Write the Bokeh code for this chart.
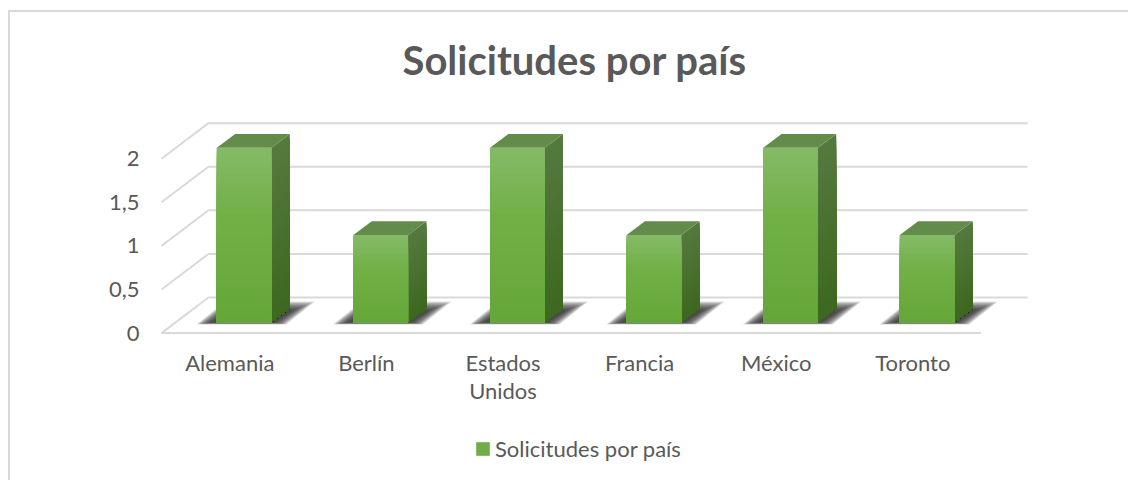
from bokeh.plotting import figure
from bokeh.embed import file_html
from bokeh.resources import INLINE
from bokeh.models import Range1d, FixedTicker, Legend, LegendItem, ColumnDataSource

TITLE = "Solicitudes por país"
categories = ["Alemania", "Berlín", "Estados\nUnidos", "Francia", "México", "Toronto"]
values = [2, 1, 2, 1, 2, 1]
y_ticks = [0, 0.5, 1, 1.5, 2]
y_labels = {0: "0", 0.5: "0,5", 1: "1", 1.5: "1,5", 2: "2"}

FONT = "Lato"
TEXT = "#595959"
GRID = "#d9d9d9"
FRONT_STOPS = [(0.0, (132, 186, 103)), (0.4, (113, 176, 70)), (1.0, (101, 166, 56))]
SIDE_STOPS = [(0.0, (85, 122, 63)), (1.0, (61, 104, 31))]
TOP_FACE = "#638b4a"

# oblique projection of the floor depth, in axis units
DX, DY = 0.344, 0.408
D0, D1 = 0.305, 0.695
BAR_W = 0.40


def mix(stops, t):
    for (a, ca), (b, cb) in zip(stops, stops[1:]):
        if t <= b:
            f = (t - a) / (b - a)
            return "#%02x%02x%02x" % tuple(round(p + (q - p) * f) for p, q in zip(ca, cb))
    return "#%02x%02x%02x" % stops[-1][1]


p = figure(width=1120, height=470, output_backend="svg", toolbar_location=None,
           x_range=Range1d(-0.5146, 5.8543), y_range=Range1d(-1.7133, 2.6675),
           min_border_left=149, min_border_right=101, min_border_top=88, min_border_bottom=0,
           outline_line_color=None, background_fill_color="white", border_fill_color="white",
           margin=(10, 0, 0, 8),
           styles={"border-top": "2px solid " + GRID, "border-left": "2px solid " + GRID})
p.grid.visible = False

# title
p.title.text = TITLE
p.title.align = "left"
p.title.offset = 243
p.title.standoff = 34
p.title.text_font = FONT
p.title.text_font_size = "40px"
p.title.text_font_style = "bold"
p.title.text_color = TEXT

# walls
XL, XR = -0.5, 5.84
gx, gy = [], []
for v in y_ticks:
    gx.append([XL, XL + DX, XR]); gy.append([v, v + DY, v + DY])
p.multi_line(gx, gy, line_color=GRID, line_width=2)
p.line([XL, XL + 6], [0, 0], line_color=GRID, line_width=2)

xs = list(range(len(categories)))

# floor shadows
LAYERS = 18
for i in xs:
    x0 = i - BAR_W / 2 + D0 * DX
    x1 = x0 + BAR_W
    yb = D0 * DY
    for k in range(LAYERS):
        f = k / (LAYERS - 1)
        sx = [x0 - 0.15 + 0.11 * f, x1 + 0.11 - 0.09 * f, x1 + 0.32 - 0.17 * f, x0 + 0.06 + 0.03 * f]
        sy = [yb - 0.025 + 0.025 * f, yb - 0.025 + 0.025 * f, yb + 0.24 - 0.11 * f, yb + 0.24 - 0.11 * f]
        p.patch(sx, sy, fill_color="#303030", fill_alpha=0.1, line_color=None)

# bars: base columns (carry the legend), then shaded slices
src = ColumnDataSource(dict(x=[i + D0 * DX for i in xs], top=[v + D0 * DY for v in values],
                            bottom=[D0 * DY] * len(xs)))
base = p.vbar(x="x", top="top", bottom="bottom", width=BAR_W, source=src,
              fill_color="#70ad47", line_color=None)

N = 48
for i, v in zip(xs, values):
    x0 = i - BAR_W / 2 + D0 * DX
    x1 = x0 + BAR_W
    x2 = x1 + (D1 - D0) * DX
    yb = D0 * DY
    rise = (D1 - D0) * DY
    # right face: each slice runs to the foot of the face, so no seams
    for k in range(N):
        t0 = k / N
        c = mix(SIDE_STOPS, t0 + 0.5 / N)
        p.patch([x1, x2, x2, x1],
                [yb + v * (1 - t0), yb + v * (1 - t0) + rise, yb + rise, yb],
                fill_color=c, line_color=None)
    # top face
    top = yb + v
    p.patch([x0, x1, x2, x0 + x2 - x1], [top, top, top + rise, top + rise],
            fill_color=TOP_FACE, line_color=None)
    # front face
    for k in range(N):
        t0 = k / N
        c = mix(FRONT_STOPS, t0 + 0.5 / N)
        p.quad(left=x0, right=x1, top=yb + v * (1 - t0), bottom=yb, fill_color=c, line_color=None)

# axes
ax = p.xaxis[0]
ax.fixed_location = 0
ax.ticker = FixedTicker(ticks=xs)
ax.major_label_overrides = {i: c for i, c in zip(xs, categories)}
ax.axis_line_color = None
ax.major_tick_line_color = None
ax.minor_tick_line_color = None
ax.major_label_standoff = 10
ax.major_label_text_font = FONT
ax.major_label_text_font_size = "22px"
ax.major_label_text_color = TEXT
ax.major_label_text_line_height = 1.05

ay = p.yaxis[0]
ay.ticker = FixedTicker(ticks=y_ticks)
ay.major_label_overrides = y_labels
ay.axis_line_color = None
ay.major_tick_line_color = None
ay.minor_tick_line_color = None
ay.major_label_standoff = 14
ay.major_label_text_font = FONT
ay.major_label_text_font_size = "22px"
ay.major_label_text_color = TEXT

# legend
legend = Legend(items=[LegendItem(label=TITLE, renderers=[base])], location=(315, 20),
                orientation="horizontal", border_line_color=None, background_fill_alpha=0,
                glyph_width=17, glyph_height=17, padding=0, margin=0, label_standoff=4,
                label_text_font=FONT, label_text_font_size="22px", label_text_color=TEXT)
p.add_layout(legend)

open("out.html", "w").write(file_html(p, INLINE))
